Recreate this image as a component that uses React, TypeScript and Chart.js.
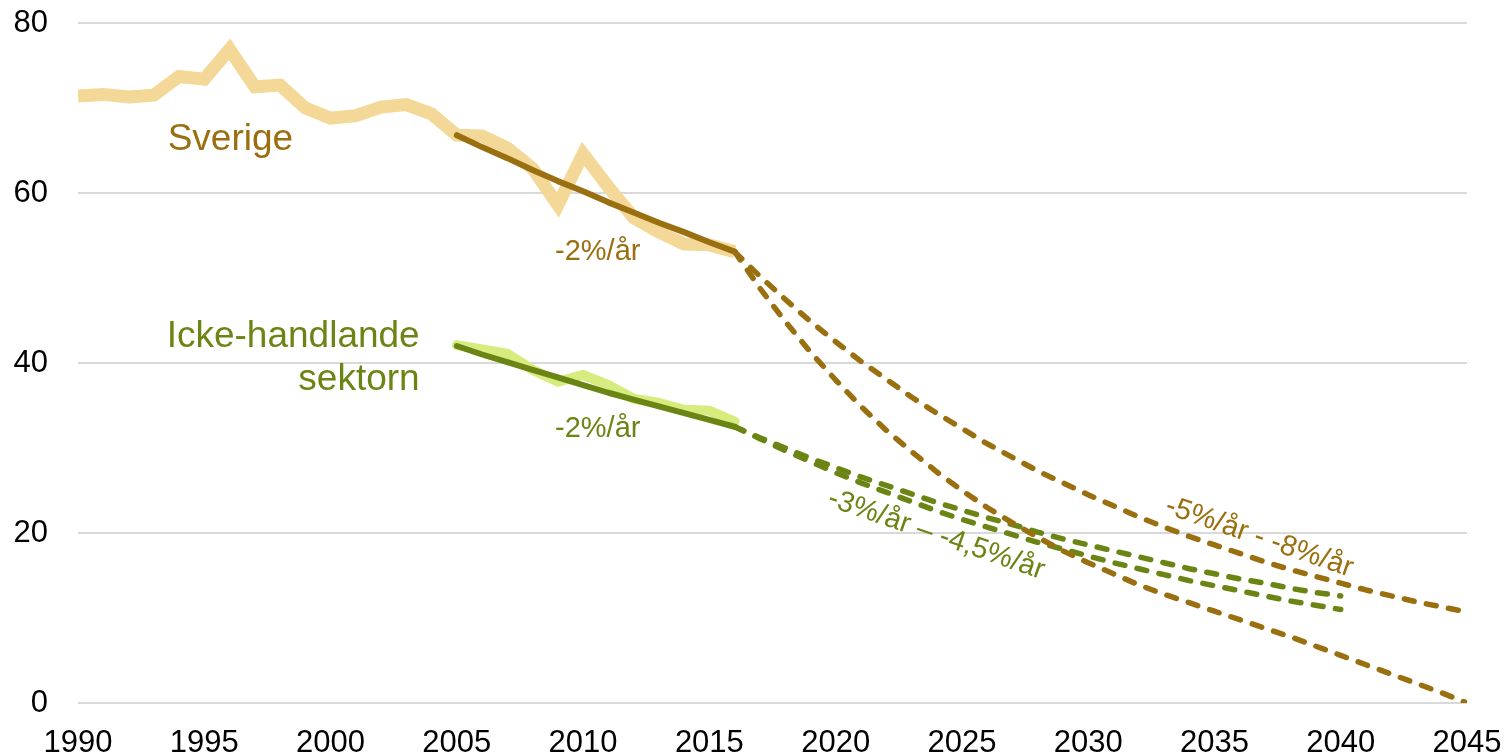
import React, { useEffect, useRef } from "react";
import { Chart, registerables } from "chart.js";

Chart.register(...registerables);

// ---- Data ----
const sverigeYears = [1990, 1991, 1992, 1993, 1994, 1995, 1996, 1997, 1998, 1999, 2000, 2001, 2002, 2003, 2004, 2005, 2006, 2007, 2008, 2009, 2010, 2011, 2012, 2013, 2014, 2015, 2016];
const sverigeValues = [71.4, 71.6, 71.3, 71.5, 73.7, 73.4, 76.9, 72.5, 72.7, 70.0, 68.8, 69.1, 70.1, 70.4, 69.3, 66.8, 66.7, 65.3, 62.9, 58.6, 64.6, 60.7, 57.1, 55.4, 54.0, 53.9, 53.1];

const trendYears = [2005, 2006, 2007, 2008, 2009, 2010, 2011, 2012, 2013, 2014, 2015, 2016];
const ickeValues = [42.1, 41.6, 41.1, 39.2, 37.8, 38.6, 37.4, 35.8, 35.3, 34.5, 34.4, 33.1];
const sverigeTrend = [66.8, 65.4, 64.1, 62.7, 61.4, 60.2, 58.9, 57.7, 56.5, 55.4, 54.2, 53.1];
const ickeTrend = [42.0, 41.0, 40.1, 39.2, 38.3, 37.4, 36.5, 35.7, 34.9, 34.1, 33.3, 32.5];

const projYears = [2016, 2017, 2018, 2019, 2020, 2021, 2022, 2023, 2024, 2025, 2026, 2027, 2028, 2029, 2030, 2031, 2032, 2033, 2034, 2035, 2036, 2037, 2038, 2039, 2040, 2041, 2042, 2043, 2044, 2045];
const sverige5 = [53.1, 50.2, 47.5, 44.9, 42.5, 40.2, 38.1, 36.0, 34.1, 32.3, 30.5, 28.9, 27.3, 25.9, 24.5, 23.2, 21.9, 20.7, 19.6, 18.6, 17.6, 16.6, 15.7, 14.9, 14.1, 13.3, 12.6, 11.9, 11.3, 10.7];
const sverige8 = [53.1, 48.8, 44.9, 41.3, 38.0, 34.9, 32.1, 29.6, 27.2, 25.0, 23.0, 21.2, 19.5, 17.9, 16.5, 15.2, 13.9, 12.8, 11.8, 10.8, 9.8, 8.8, 7.8, 6.7, 5.6, 4.5, 3.4, 2.3, 1.2, 0.0];

const greenProjYears = [2016, 2017, 2018, 2019, 2020, 2021, 2022, 2023, 2024, 2025, 2026, 2027, 2028, 2029, 2030, 2031, 2032, 2033, 2034, 2035, 2036, 2037, 2038, 2039, 2040];
const icke3 = [32.5, 31.2, 30.0, 28.8, 27.7, 26.6, 25.6, 24.6, 23.6, 22.7, 21.8, 21.0, 20.1, 19.3, 18.6, 17.9, 17.2, 16.5, 15.8, 15.2, 14.6, 14.1, 13.5, 13.0, 12.6];
const icke45 = [32.5, 31.1, 29.7, 28.4, 27.1, 25.9, 24.8, 23.7, 22.6, 21.6, 20.7, 19.8, 18.9, 18.1, 17.3, 16.5, 15.8, 15.1, 14.4, 13.8, 13.2, 12.6, 12.0, 11.5, 11.0];

const yTicks = [0, 20, 40, 60, 80];
const xTickYears = [1990, 1995, 2000, 2005, 2010, 2015, 2020, 2025, 2030, 2035, 2040, 2045];

// ---- Styles ----
const BROWN = "#9A6F0F";
const TAN = "#F4D898";
const GREEN = "#6A8514";
const LIGHTGREEN = "#D6EC7E";
const FONT = "'Liberation Sans', Arial, sans-serif";

const pts = (xs: number[], ys: number[]) => xs.map((x, i) => ({ x, y: ys[i] }));

type Label = { text: string; x: number; y: number; color: string; size: number; align: CanvasTextAlign; baseline: CanvasTextBaseline; angle: number };
const labels: Label[] = [
  { text: "Sverige", x: 1993.55, y: 65.05, color: BROWN, size: 37, align: "left", baseline: "alphabetic", angle: 0 },
  { text: "Icke-handlande", x: 2003.53, y: 41.9, color: GREEN, size: 37, align: "right", baseline: "alphabetic", angle: 0 },
  { text: "sektorn", x: 2003.53, y: 36.8, color: GREEN, size: 37, align: "right", baseline: "alphabetic", angle: 0 },
  { text: "-2%/år", x: 2010.58, y: 52.1, color: BROWN, size: 29, align: "center", baseline: "alphabetic", angle: 0 },
  { text: "-2%/år", x: 2010.58, y: 31.3, color: GREEN, size: 29, align: "center", baseline: "alphabetic", angle: 0 },
  { text: "-3%/år – -4,5%/år", x: 2023.99, y: 19.8, color: GREEN, size: 29, align: "center", baseline: "middle", angle: 19 },
  { text: "-5%/år - -8%/år", x: 2036.78, y: 19.5, color: BROWN, size: 29, align: "center", baseline: "middle", angle: 19 },
];

const labelPlugin = {
  id: "textLabels",
  afterDatasetsDraw(chart: any) {
    const { ctx, scales } = chart;
    labels.forEach((l) => {
      const px = scales.x.getPixelForValue(l.x);
      const py = scales.y.getPixelForValue(l.y);
      ctx.save();
      ctx.translate(px, py);
      ctx.rotate((l.angle * Math.PI) / 180);
      ctx.font = `${l.size}px ${FONT}`;
      ctx.fillStyle = l.color;
      ctx.textAlign = l.align;
      ctx.textBaseline = l.baseline;
      ctx.fillText(l.text, 0, 0);
      ctx.restore();
    });
  },
};

export default function App() {
  const ref = useRef<HTMLCanvasElement | null>(null);
  useEffect(() => {
    document.body.style.margin = "0";
    if (!ref.current) return;
    const dashed = (data: any, color: string) => ({
      data,
      borderColor: color,
      borderWidth: 5.5,
      borderDash: [10, 12.5],
      borderCapStyle: "round" as const,
      borderJoinStyle: "round" as const,
      pointRadius: 0,
      fill: false,
    });
    const chart = new Chart(ref.current, {
      type: "line",
      data: {
        datasets: [
          dashed(pts(projYears, sverige5), BROWN),
          dashed(pts(projYears, sverige8), BROWN),
          dashed(pts(greenProjYears, icke3), GREEN),
          dashed(pts(greenProjYears, icke45), GREEN),
          { data: pts(trendYears, sverigeTrend), borderColor: BROWN, borderWidth: 6, borderCapStyle: "round", borderJoinStyle: "round", pointRadius: 0 },
          { data: pts(trendYears, ickeTrend), borderColor: GREEN, borderWidth: 6, borderCapStyle: "round", borderJoinStyle: "round", pointRadius: 0 },
          { data: pts(trendYears, ickeValues), borderColor: LIGHTGREEN, borderWidth: 10, borderCapStyle: "round", borderJoinStyle: "miter", pointRadius: 0 },
          { data: pts(sverigeYears, sverigeValues), borderColor: TAN, borderWidth: 13, borderCapStyle: "butt", borderJoinStyle: "miter", pointRadius: 0 },
        ],
      },
      options: {
        animation: false,
        responsive: true,
        maintainAspectRatio: false,
        layout: { padding: { top: 23, right: 39, left: 0, bottom: 0 } },
        plugins: { legend: { display: false }, tooltip: { enabled: false } },
        elements: { line: { tension: 0 } },
        scales: {
          x: {
            type: "linear",
            min: 1990,
            max: 2045,
            afterFit: (s: any) => { s.height = 52; s.paddingLeft = 0; s.paddingRight = 0; s.paddingTop = 0; s.paddingBottom = 0; },
            afterBuildTicks: (s: any) => { s.ticks = xTickYears.map((v) => ({ value: v })); },
            grid: { display: false, drawTicks: false },
            border: { display: false },
            ticks: {
              padding: 22,
              color: "#000",
              font: { family: FONT, size: 31 },
              maxRotation: 0,
              autoSkip: false,
              callback: (v: any) => String(v),
            },
          },
          y: {
            min: 0,
            max: 80,
            afterFit: (s: any) => { s.width = 78; s.paddingLeft = 0; s.paddingRight = 0; s.paddingTop = 0; s.paddingBottom = 0; },
            afterBuildTicks: (s: any) => { s.ticks = yTicks.map((v) => ({ value: v })); },
            grid: { color: "#D9D9D9", lineWidth: 2, drawTicks: false },
            border: { display: false },
            ticks: {
              padding: 30,
              color: "#000",
              font: { family: FONT, size: 31 },
              callback: (v: any) => String(v),
            },
          },
        },
      },
      plugins: [labelPlugin],
    });
    return () => chart.destroy();
  }, []);
  return (
    <div style={{ width: 1506, height: 755, position: "relative" }}>
      <canvas ref={ref} />
    </div>
  );
}
